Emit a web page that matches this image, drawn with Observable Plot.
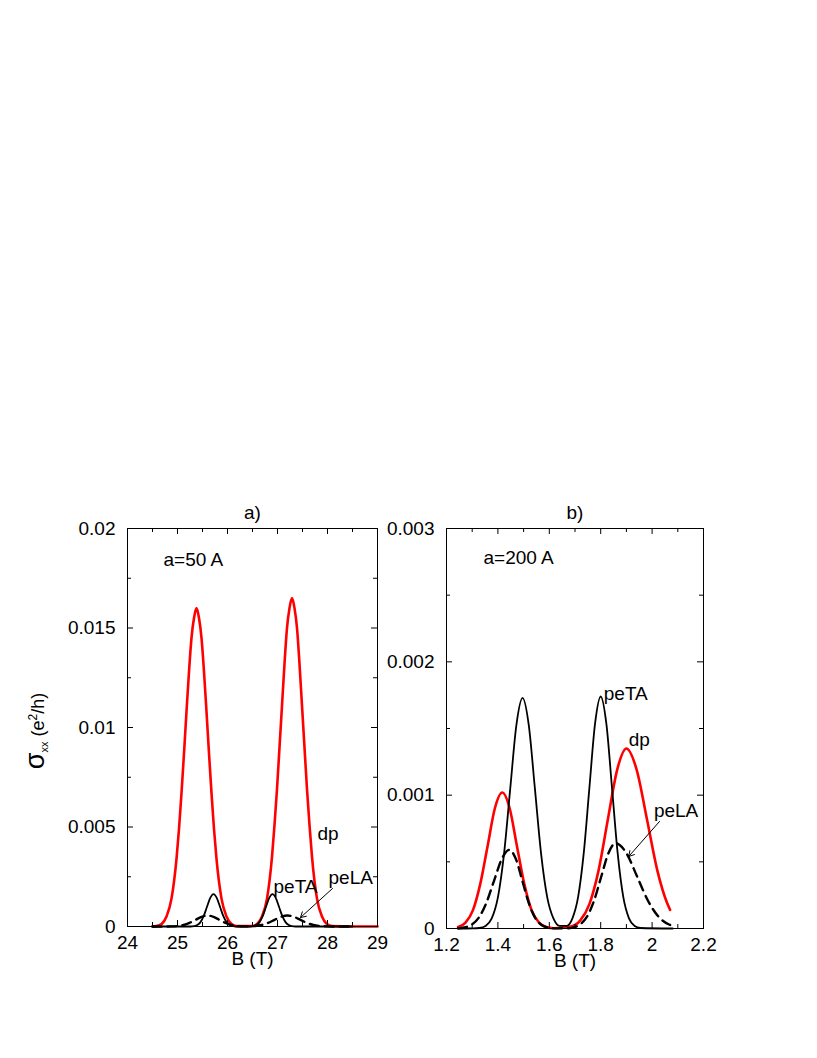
<!DOCTYPE html>
<html><head><meta charset="utf-8">
<script src="https://cdn.jsdelivr.net/npm/d3@7"></script>
<script src="https://cdn.jsdelivr.net/npm/@observablehq/plot@0.6"></script>
<style>
body{margin:0;background:#fff;}
#page{position:relative;width:817px;height:1058px;font-family:"Liberation Sans",Arial,sans-serif;}
#page svg{position:absolute;left:0;top:0;}
</style></head><body><div id="page">
<svg width="817" height="1058" style="font-family:'Liberation Sans',Arial,sans-serif">
  <text transform="translate(44,731) rotate(-90)" text-anchor="middle" fill="black"><tspan font-size="27">σ</tspan><tspan font-size="11" dy="4">xx</tspan><tspan font-size="18" dy="-4"> (e</tspan><tspan font-size="12" dy="-7">2</tspan><tspan font-size="18" dy="7">/h)</tspan></text>
</svg>
</div>
<script>
const W = 817, H = 1058;

// ---------- Panel a) a = 50 A ----------
const dpA_x = [24.5,24.58,24.68,24.78,24.88,24.98,25.03,25.08,25.13,25.18,25.23,25.28,25.33,25.38,25.43,25.48,25.53,25.58,25.63,25.68,25.73,25.78,25.88,25.98,26.08,26.18,26.49,26.59,26.69,26.79,26.89,26.94,26.99,27.04,27.09,27.14,27.19,27.24,27.29,27.34,27.39,27.44,27.49,27.54,27.59,27.64,27.69,27.79,27.89,27.99,28.09,28.5,29.0];
const dpA_y = [0,0.00002,0.00012,0.0005,0.0014,0.0034,0.0049,0.0067,0.0087,0.0108,0.0128,0.0145,0.0155,0.0160,0.0155,0.0145,0.0128,0.0108,0.0087,0.0067,0.0049,0.0034,0.0014,0.0005,0.00012,0.00002,0.00002,0.00012,0.0005,0.0014,0.0035,0.0051,0.0069,0.0090,0.0111,0.0132,0.0150,0.0160,0.0165,0.0160,0.0150,0.0132,0.0111,0.0090,0.0069,0.0051,0.0035,0.0014,0.0005,0.00012,0.00002,0,0];

const peTA_A_x = [24.5,25.26,25.33,25.395,25.46,25.525,25.59,25.655,25.72,25.785,25.85,25.915,25.98,26.045,26.11,26.18,26.44,26.51,26.575,26.64,26.705,26.77,26.835,26.9,26.965,27.03,27.095,27.16,27.225,27.29,27.36,28.5];
const peTA_A_y = [0,0,0.000018,0.00007,0.00022,0.00053,0.00099,0.00144,0.00163,0.00144,0.00099,0.00053,0.00022,0.00007,0.000018,0,0,0.000018,0.00007,0.00022,0.00053,0.00099,0.00144,0.00163,0.00144,0.00099,0.00053,0.00022,0.00007,0.000018,0,0];

const peLA_A_x = [24.5,24.76,24.88,25.0,25.12,25.24,25.36,25.48,25.6,25.72,25.84,25.96,26.08,26.2,26.32,26.42,26.55,26.68,26.81,26.94,27.07,27.2,27.33,27.46,27.59,27.72,27.85,27.98,28.11,28.5];
const peLA_A_y = [0,0.0000012,0.0000061,0.0000241,0.0000744,0.000179,0.000334,0.000485,0.00055,0.000485,0.000334,0.000179,0.0000744,0.0000241,0.000008,0.000008,0.0000241,0.0000744,0.000179,0.000334,0.000485,0.00055,0.000485,0.000334,0.000179,0.0000744,0.0000241,0.0000061,0.0000012,0];

const xMajorA = [24,25,26,27,28,29];
const xMinorA = [24.5,25.5,26.5,27.5,28.5];
const xLabelsA = ["24","25","26","27","28","29"];
const yMajorA = [0,0.005,0.01,0.015,0.02];
const yMinorA = [0.0025,0.0075,0.0125,0.0175];
const yLabelsA = ["0","0.005","0.01","0.015","0.02"];
const notesA = [
  {x:24.72, y:0.0184, t:"a=50 A"},
  {x:27.8, y:0.00465, t:"dp"},
  {x:26.92, y:0.00201, t:"peTA"},
  {x:28.02, y:0.00244, t:"peLA"}
];
const arrowA = [{x1:28.1, y1:0.00191, x2:27.46, y2:0.00045}];

// ---------- Panel b) a = 200 A ----------
const dpB_x = [1.245,1.274,1.303,1.331,1.36,1.388,1.417,1.446,1.474,1.503,1.531,1.56,1.588,1.617,1.684,1.72,1.756,1.792,1.828,1.864,1.9,1.94,1.98,2.02,2.06,2.07];
const dpB_y = [0.0000113,0.0000448,0.000138,0.000331,0.000619,0.0009,0.00102,0.0009,0.000619,0.000331,0.000138,0.0000448,0.0000113,0.0000022,0.000015,0.0000593,0.000183,0.000438,0.000819,0.00119,0.00135,0.00119,0.000819,0.000438,0.000183,0.00014];

const peTA_B_x = [1.245,1.304,1.328,1.352,1.376,1.4,1.424,1.448,1.472,1.496,1.52,1.544,1.568,1.592,1.616,1.64,1.668,1.69,1.712,1.734,1.756,1.778,1.8,1.822,1.844,1.866,1.888,1.91,1.932,1.954,2.08];
const peTA_B_y = [0,0.0000005,0.0000038,0.0000192,0.000076,0.000234,0.000562,0.001049,0.001527,0.00173,0.001527,0.001049,0.000562,0.000234,0.000076,0.00002,0.00002,0.0000764,0.000235,0.000565,0.001055,0.001536,0.00174,0.001536,0.001055,0.000565,0.000235,0.0000764,0.0000193,0.0000039,0];

const peLA_B_x = [1.245,1.265,1.295,1.325,1.355,1.385,1.415,1.445,1.47,1.495,1.52,1.545,1.57,1.595,1.62,1.662,1.69,1.718,1.746,1.774,1.802,1.83,1.858,1.9,1.942,1.984,2.026,2.068,2.08];
const peLA_B_y = [0.000001,0.0000065,0.0000259,0.0000798,0.000192,0.000358,0.000521,0.00059,0.000521,0.000358,0.000192,0.0000798,0.0000259,0.0000065,0.0000013,0.0000014,0.0000071,0.0000281,0.0000866,0.000208,0.000388,0.000565,0.00064,0.000565,0.000388,0.000208,0.0000866,0.0000281,0.00002];

const xMajorB = [1.2,1.4,1.6,1.8,2.0,2.2];
const xMinorB = [1.3,1.5,1.7,1.9,2.1];
const xLabelsB = ["1.2","1.4","1.6","1.8","2","2.2"];
const yMajorB = [0,0.001,0.002,0.003];
const yMinorB = [0.0005,0.0015,0.0025];
const yLabelsB = ["0","0.001","0.002","0.003"];
const notesB = [
  {x:1.344, y:0.002783, t:"a=200 A"},
  {x:1.812, y:0.001763, t:"peTA"},
  {x:1.909, y:0.001414, t:"dp"},
  {x:2.007, y:0.000881, t:"peLA"}
];
const arrowB = [{x1:2.029, y1:0.000803, x2:1.909, y2:0.00054}];

function pts(xs, ys){ return xs.map((x,i)=>({x, y: ys[i]})); }

function panel(p){
  const {L,R,T,B} = p.box;
  const fh = B - T, fw = R - L;
  const maj = 6, mnr = 4, fs = 19;
  return Plot.plot({
    width: W, height: H,
    marginLeft: L, marginRight: W - R, marginTop: T, marginBottom: H - B,
    x: {domain: p.xDomain, axis: null},
    y: {domain: p.yDomain, axis: null},
    style: {fontFamily: "'Liberation Sans', Arial, sans-serif", fontSize: "19px", background: "transparent", overflow: "visible"},
    marks: [
      Plot.line(pts(p.dp[0], p.dp[1]), {x:"x", y:"y", curve:"monotone-x", stroke:"#ff0000", strokeWidth:2.6}),
      Plot.line(pts(p.la[0], p.la[1]), {x:"x", y:"y", curve:"monotone-x", stroke:"black", strokeWidth:2.4, strokeDasharray:"9,6"}),
      Plot.line(pts(p.ta[0], p.ta[1]), {x:"x", y:"y", curve:"monotone-x", stroke:"black", strokeWidth:1.8}),
      Plot.frame({stroke:"black", strokeWidth:1}),
      Plot.tickX(p.xMajor, {x:d=>d, insetTop: fh - maj, stroke:"black"}),
      Plot.tickX(p.xMajor, {x:d=>d, insetBottom: fh - maj, stroke:"black"}),
      Plot.tickX(p.xMinor, {x:d=>d, insetTop: fh - mnr, stroke:"black"}),
      Plot.tickX(p.xMinor, {x:d=>d, insetBottom: fh - mnr, stroke:"black"}),
      Plot.tickY(p.yMajor, {y:d=>d, insetRight: fw - maj, stroke:"black"}),
      Plot.tickY(p.yMajor, {y:d=>d, insetLeft: fw - maj, stroke:"black"}),
      Plot.tickY(p.yMinor, {y:d=>d, insetRight: fw - mnr, stroke:"black"}),
      Plot.tickY(p.yMinor, {y:d=>d, insetLeft: fw - mnr, stroke:"black"}),
      Plot.text(p.xMajor, {x:d=>d, text:(d,i)=>p.xLabels[i], frameAnchor:"bottom", dy:16, lineAnchor:"middle", fill:"black", fontSize:fs}),
      Plot.text(p.yMajor, {y:d=>d, text:(d,i)=>p.yLabels[i], frameAnchor:"left", dx:-12, textAnchor:"end", lineAnchor:"middle", fill:"black", fontSize:fs}),
      Plot.text([p.title], {text:d=>d, frameAnchor:"top", dy:-16, lineAnchor:"middle", fill:"black", fontSize:fs}),
      Plot.text(["B (T)"], {text:d=>d, frameAnchor:"bottom", dy:32, lineAnchor:"middle", fill:"black", fontSize:fs}),
      Plot.text(p.notes, {x:"x", y:"y", text:"t", textAnchor:"start", lineAnchor:"middle", fill:"black", fontSize:fs}),
      Plot.arrow(p.arrow, {x1:"x1", y1:"y1", x2:"x2", y2:"y2", stroke:"black", strokeWidth:1, headLength:9})
    ]
  });
}

const page = document.getElementById("page");
page.append(panel({
  box:{L:127, R:377, T:528, B:926}, xDomain:[24,29], yDomain:[0,0.02],
  dp:[dpA_x, dpA_y], ta:[peTA_A_x, peTA_A_y], la:[peLA_A_x, peLA_A_y],
  xMajor:xMajorA, xMinor:xMinorA, xLabels:xLabelsA,
  yMajor:yMajorA, yMinor:yMinorA, yLabels:yLabelsA,
  title:"a)", notes:notesA, arrow:arrowA
}));
page.append(panel({
  box:{L:446, R:703, T:528, B:928}, xDomain:[1.2,2.2], yDomain:[0,0.003],
  dp:[dpB_x, dpB_y], ta:[peTA_B_x, peTA_B_y], la:[peLA_B_x, peLA_B_y],
  xMajor:xMajorB, xMinor:xMinorB, xLabels:xLabelsB,
  yMajor:yMajorB, yMinor:yMinorB, yLabels:yLabelsB,
  title:"b)", notes:notesB, arrow:arrowB
}));
</script>
</body></html>
